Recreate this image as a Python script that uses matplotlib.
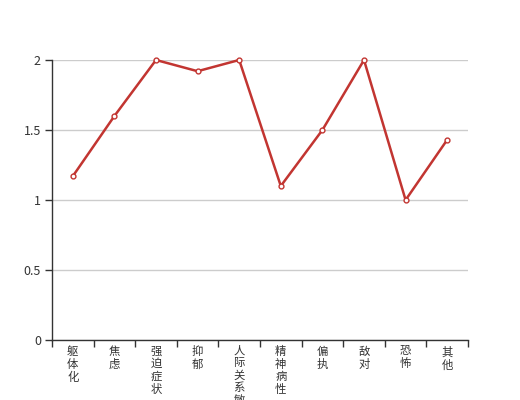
import matplotlib
matplotlib.use("Agg")
import matplotlib.pyplot as plt
import numpy as np

plt.rcParams['font.family'] = ['Noto Sans CJK SC', 'DejaVu Sans']

# data
categories = ["躯体化", "焦虑", "强迫症状", "抑郁", "人际关系敏感", "精神病性", "偏执", "敌对", "恐怖", "其他"]
values = [1.17, 1.60, 2.00, 1.92, 2.00, 1.10, 1.50, 2.00, 1.00, 1.43]
yticks = [0, 0.5, 1, 1.5, 2]
ylabels = ["0", "0.5", "1", "1.5", "2"]

fig = plt.figure(figsize=(5.2, 4.0), dpi=100)
ax = fig.add_axes([0.1, 0.15, 0.8, 0.70])

x = np.arange(len(categories))
ax.plot(x, values, color="#c23531", linewidth=1.8, marker="o", markersize=3.5,
        markerfacecolor="white", markeredgecolor="#c23531", markeredgewidth=1,
        zorder=3, clip_on=False)

ax.set_xlim(-0.5, len(categories) - 0.5)
ax.set_ylim(0, 2)

# y axis
ax.set_yticks(yticks)
ax.set_yticklabels(ylabels)
ax.yaxis.grid(True, color="#cccccc", linewidth=1)
ax.set_axisbelow(True)
ax.tick_params(axis="y", length=5, width=1, color="#333333", labelcolor="#333333",
               labelsize=9, pad=3)

# x axis: ticks at boundaries, vertical stacked labels
ax.set_xticks(np.arange(len(categories) + 1) - 0.5)
ax.set_xticklabels([])
ax.tick_params(axis="x", length=5, width=1, color="#333333")
for i, c in enumerate(categories):
    ax.text(i, -0.045, "\n".join(c), ha="center", va="top", fontsize=8.2,
            color="#333333", linespacing=1.22, clip_on=False)

for s in ["top", "right"]:
    ax.spines[s].set_visible(False)
for s in ["left", "bottom"]:
    ax.spines[s].set_color("#333333")
    ax.spines[s].set_linewidth(1)

fig.savefig("out.png", dpi=100)
